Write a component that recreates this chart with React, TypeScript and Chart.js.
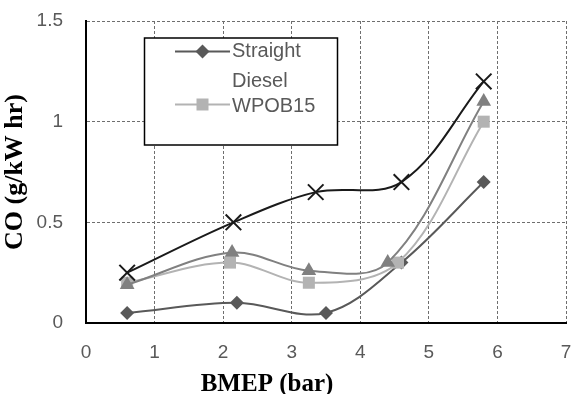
import React, { useEffect, useRef } from "react";
import { Chart, registerables } from "chart.js";

Chart.register(...registerables);

// ---- data ----
const xAxisTicks = [0, 1, 2, 3, 4, 5, 6, 7];
const yAxisTicks = [0, 0.5, 1, 1.5];
const xTitle = "BMEP (bar)";
const yTitle = "CO (g/kW hr)";

const dieselLabel = "Straight Diesel";
const dieselX = [0.6, 2.2, 3.5, 4.6, 5.8];
const dieselY = [0.05, 0.1, 0.05, 0.3, 0.7];

const wpob15Label = "WPOB15";
const wpob15X = [0.6, 2.1, 3.25, 4.55, 5.8];
const wpob15Y = [0.2, 0.3, 0.2, 0.3, 1.0];

const series3Label = "Series 3";
const series3X = [0.6, 2.13, 3.25, 4.4, 5.8];
const series3Y = [0.19, 0.35, 0.26, 0.3, 1.1];

const series4Label = "Series 4";
const series4X = [0.6, 2.15, 3.35, 4.6, 5.8];
const series4Y = [0.25, 0.5, 0.65, 0.7, 1.2];

const toPoints = (xs: number[], ys: number[]) => xs.map((x, i) => ({ x, y: ys[i] }));

const SANS = "'Liberation Sans', Arial, sans-serif";
const SERIF = "'Liberation Serif', 'Times New Roman', serif";

const overlayPlugin = {
  id: "overlay",
  afterDraw(chart: any) {
    const ctx = chart.ctx;
    ctx.save();
    // x axis title (offset left as in the reference)
    ctx.fillStyle = "#000000";
    ctx.font = `bold 25px ${SERIF}`;
    ctx.textAlign = "center";
    ctx.textBaseline = "alphabetic";
    ctx.fillText(xTitle, 267, 391);

    // legend box
    ctx.fillStyle = "#ffffff";
    ctx.fillRect(144.5, 38, 193, 107);
    ctx.strokeStyle = "#000000";
    ctx.lineWidth = 1.5;
    ctx.strokeRect(144.5, 38, 193, 107);

    // entry 1: Straight Diesel
    ctx.strokeStyle = "#595959";
    ctx.lineWidth = 2;
    ctx.beginPath();
    ctx.moveTo(175, 51.5);
    ctx.lineTo(230, 51.5);
    ctx.stroke();
    ctx.fillStyle = "#595959";
    ctx.beginPath();
    ctx.moveTo(202.5, 44.5);
    ctx.lineTo(209.5, 51.5);
    ctx.lineTo(202.5, 58.5);
    ctx.lineTo(195.5, 51.5);
    ctx.closePath();
    ctx.fill();

    // entry 2: WPOB15
    ctx.strokeStyle = "#b3b3b3";
    ctx.beginPath();
    ctx.moveTo(175, 104.5);
    ctx.lineTo(230, 104.5);
    ctx.stroke();
    ctx.fillStyle = "#b3b3b3";
    ctx.fillRect(196.5, 98.5, 12, 12);

    // texts
    ctx.fillStyle = "#595959";
    ctx.font = `20px ${SANS}`;
    ctx.textAlign = "left";
    ctx.textBaseline = "alphabetic";
    const words = dieselLabel.split(" ");
    ctx.fillText(words[0], 232, 57);
    ctx.fillText(words[1], 232, 87);
    ctx.fillText(wpob15Label, 232, 112);
    ctx.restore();
  },
};

export default function App() {
  const canvasRef = useRef<HTMLCanvasElement | null>(null);

  useEffect(() => {
    document.body.style.margin = "0";
    const canvas = canvasRef.current;
    if (!canvas) return;
    const chart = new Chart(canvas, {
      type: "line",
      data: {
        datasets: [
          {
            label: dieselLabel,
            data: toPoints(dieselX, dieselY),
            borderColor: "#595959",
            backgroundColor: "#595959",
            borderWidth: 2,
            pointStyle: "rectRot",
            pointRadius: 7,
            pointBorderWidth: 0,
            tension: 0.35,
            order: 3,
          },
          {
            label: wpob15Label,
            data: toPoints(wpob15X, wpob15Y),
            borderColor: "#b3b3b3",
            backgroundColor: "#b3b3b3",
            borderWidth: 2,
            pointStyle: "rect",
            pointRadius: 8.5,
            pointBorderWidth: 0,
            tension: 0.35,
            order: 2,
          },
          {
            label: series3Label,
            data: toPoints(series3X, series3Y),
            borderColor: "#808080",
            backgroundColor: "#808080",
            borderWidth: 2,
            pointStyle: "triangle",
            pointRadius: 8.5,
            pointBorderWidth: 0,
            tension: 0.35,
            order: 1,
          },
          {
            label: series4Label,
            data: toPoints(series4X, series4Y),
            borderColor: "#1a1a1a",
            backgroundColor: "#1a1a1a",
            borderWidth: 2,
            pointStyle: "crossRot",
            pointRadius: 11,
            pointBorderWidth: 2,
            pointBorderColor: "#1a1a1a",
            tension: 0.35,
            order: 0,
          },
        ],
      },
      options: {
        animation: false,
        responsive: true,
        maintainAspectRatio: false,
        layout: { autoPadding: false, padding: { top: 21, right: 6, left: 0, bottom: 0 } },
        plugins: {
          legend: { display: false },
          tooltip: { enabled: false },
        },
        scales: {
          x: {
            type: "linear",
            min: xAxisTicks[0],
            max: xAxisTicks[xAxisTicks.length - 1],
            afterBuildTicks: (scale: any) => {
              scale.ticks = xAxisTicks.map((v) => ({ value: v }));
            },
            ticks: {
              color: "#595959",
              font: { family: SANS, size: 19 },
              padding: 18,
              maxRotation: 0,
              callback: (v: any) => `${v}`,
            },
            grid: {
              color: "#6e6e6e",
              lineWidth: 1,
              drawTicks: false,
            },
            border: { display: true, color: "#000000", width: 2, dash: [3, 2] },
            title: { display: false },
            afterFit: (scale: any) => {
              scale.height = 71;
              scale.paddingLeft = 0;
              scale.paddingRight = 0;
            },
          },
          y: {
            type: "linear",
            min: yAxisTicks[0],
            max: yAxisTicks[yAxisTicks.length - 1],
            afterBuildTicks: (scale: any) => {
              scale.ticks = yAxisTicks.map((v) => ({ value: v }));
            },
            ticks: {
              color: "#595959",
              font: { family: SANS, size: 19 },
              padding: 23,
              callback: (v: any) => `${v}`,
            },
            grid: {
              color: "#6e6e6e",
              lineWidth: 1,
              drawTicks: false,
            },
            border: { display: true, color: "#000000", width: 2, dash: [3, 2] },
            title: {
              display: true,
              text: yTitle,
              color: "#000000",
              font: { family: SERIF, size: 26, weight: "bold", lineHeight: 1 },
              padding: { top: 2, bottom: 0 },
            },
            afterFit: (scale: any) => {
              scale.width = 86;
              scale.paddingTop = 0;
              scale.paddingBottom = 0;
            },
          },
        },
      },
      plugins: [overlayPlugin],
    });
    return () => chart.destroy();
  }, []);

  return (
    <div style={{ position: "relative", width: 572, height: 394 }}>
      <canvas ref={canvasRef} />
    </div>
  );
}
